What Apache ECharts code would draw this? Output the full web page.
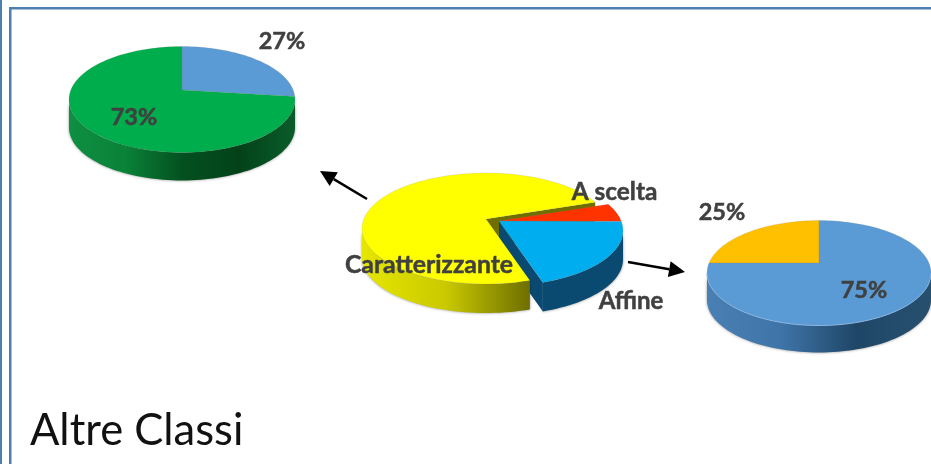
<!DOCTYPE html>
<html>
<head>
<meta charset="utf-8">
<style>html,body{margin:0;padding:0;background:#fff}#c{width:931px;height:464px}</style>
<script src="https://cdn.jsdelivr.net/npm/echarts@6/dist/echarts.min.js"></script>
</head>
<body>
<div id="c"></div>
<script>
var mainCategories = ['Caratterizzante', 'A scelta', 'Affine'];
var mainValues = [74.5, 5.5, 20];
var leftCategories = ['27%', '73%'];
var leftValues = [27, 73];
var rightCategories = ['75%', '25%'];
var rightValues = [75, 25];
var captionText = 'Altre Classi';

var FONT = 'Lato';
var TEXT = '#404040';
var FRAME = '#4f7fae';

var wallLeft = ['#0e8f42', '#0a8238', '#04501f', '#034219', '#0a5c2a'];
var wallRight = ['#4a7fb3', '#3f74a8', '#1f4667', '#27506f'];
var wallMain = ['#e6e600', '#c9c900', '#6e6e00'];

var leftPie = {
  cx: 182, cy: 99.5, rx: 113, ry: 53, k: -0.18, depth: 28, start: 0,
  slices: [
    { color: '#5b9bd5', wall: null, dx: 0, dy: 0, z: 1 },
    { color: '#00ad4c', wall: wallLeft, dx: 0, dy: 0, z: 3 }
  ]
};
var rightPie = {
  cx: 819, cy: 273, rx: 112, ry: 52.5, k: -0.19, depth: 27, start: 0,
  slices: [
    { color: '#5b9bd5', wall: wallRight, dx: 0, dy: 0, z: 3, rim: '#86b6e2' },
    { color: '#ffc000', wall: null, dx: 0, dy: 0, z: 1 }
  ]
};
var mainPie = {
  cx: 486, cy: 228.5, rx: 124, ry: 55.5, k: -0.17, depth: 29, start: 162.5,
  slices: [
    { color: '#ffff00', wall: wallMain, dx: 0, dy: 0, z: 20, innerEnd: '#6f6f00', innerZ: 1 },
    { color: '#ff3300', wall: ['#a82000', '#7a1800'], dx: 13, dy: 2, z: 5 },
    { color: '#00aeef', wall: ['#0a4a70', '#0a4a70'], dx: 13, dy: 2, z: 10, innerEnd: '#0a4a70', innerZ: 10 }
  ]
};

function project(p, deg, dx, dy) {
  var a = deg * Math.PI / 180;
  var u = Math.sin(a), t = -Math.cos(a), k = p.k;
  var d = 1 + k * t;
  return [
    p.cx + dx + p.rx * u * Math.sqrt(1 - k * k) / d,
    p.cy + dy + p.ry * (t + k) / d
  ];
}
function apex(p, dx, dy) {
  return [p.cx + dx, p.cy + dy + p.ry * p.k];
}
function rimPoints(p, a0, a1, dx, dy) {
  var pts = [], n = Math.max(2, Math.ceil(Math.abs(a1 - a0) / 2));
  for (var i = 0; i <= n; i++) pts.push(project(p, a0 + (a1 - a0) * i / n, dx, dy));
  return pts;
}
function gradient(stops) {
  return {
    type: 'linear', x: 0, y: 0, x2: 1, y2: 0,
    colorStops: stops.map(function (c, i) { return { offset: i / (stops.length - 1), color: c }; })
  };
}
function radialWall(p, deg, s, fill, z) {
  var A = apex(p, s.dx, s.dy), R = project(p, deg, s.dx, s.dy);
  return {
    type: 'polygon', z2: z, silent: true,
    shape: { points: [A, R, [R[0], R[1] + p.depth], [A[0], A[1] + p.depth]] },
    style: { fill: fill }
  };
}
function pieRenderer(p, values) {
  var total = values.reduce(function (a, b) { return a + b; }, 0);
  var front0 = Math.acos(p.k) * 180 / Math.PI, front1 = 360 - front0;
  return function (params, api) {
    var i = params.dataIndex, s = p.slices[i], before = 0;
    for (var j = 0; j < i; j++) before += values[j];
    var a0 = p.start + 360 * before / total;
    var a1 = a0 + 360 * api.value(0) / total;
    var kids = [];
    if (s.wall) {
      [0, 360].forEach(function (off) {
        var lo = Math.max(a0, front0 + off), hi = Math.min(a1, front1 + off);
        if (hi <= lo) return;
        var top = rimPoints(p, lo, hi, s.dx, s.dy);
        var bot = top.map(function (q) { return [q[0], q[1] + p.depth]; }).reverse();
        // the gradient always runs from left to right on the screen
        kids.push({
          type: 'polygon', z2: s.z, silent: true,
          shape: { points: top.concat(bot) },
          style: { fill: gradient(s.wall), shadowBlur: 3, shadowColor: 'rgba(0,0,0,0.45)' }
        });
      });
    }
    if (s.innerEnd) kids.push(radialWall(p, a1, s, s.innerEnd, s.innerZ));
    var face = [apex(p, s.dx, s.dy)].concat(rimPoints(p, a0, a1, s.dx, s.dy));
    kids.push({
      type: 'polygon', z2: s.z + 1, silent: true,
      shape: { points: face },
      style: { fill: s.color, stroke: 'rgba(120,120,120,0.25)', lineWidth: 0.6 }
    });
    if (s.rim) {
      var lo = Math.max(a0, front0), hi = Math.min(a1, front1);
      kids.push({
        type: 'polyline', z2: s.z + 2, silent: true,
        shape: { points: rimPoints(p, lo, hi, s.dx, s.dy) },
        style: { fill: 'none', stroke: s.rim, lineWidth: 1 }
      });
    }
    return { type: 'group', children: kids };
  };
}
function pieSeries(name, p, values, categories) {
  return {
    type: 'custom', name: name, coordinateSystem: 'none',
    renderItem: pieRenderer(p, values),
    data: values.map(function (v, i) { return { name: categories[i], value: [v] }; }),
    animation: false, silent: true
  };
}
function label(text, x, y, size) {
  return {
    type: 'text', x: x, y: y, z: 100, silent: true,
    style: {
      text: text, font: 'bold ' + size + 'px ' + FONT, fill: TEXT,
      stroke: TEXT, lineWidth: 0.5, align: 'center', verticalAlign: 'middle'
    }
  };
}
function band(x, y, w, h) {
  return { type: 'rect', z: 90, silent: true, shape: { x: x, y: y, width: w, height: h }, style: { fill: FRAME } };
}
function arrow(x0, y0, x1, y1, head, half) {
  var L = Math.hypot(x1 - x0, y1 - y0), ux = (x1 - x0) / L, uy = (y1 - y0) / L;
  var bx = x1 - ux * head, by = y1 - uy * head;
  return [
    { type: 'line', z: 95, silent: true, shape: { x1: x0, y1: y0, x2: bx, y2: by }, style: { stroke: '#000', lineWidth: 2.5 } },
    { type: 'polygon', z: 95, silent: true,
      shape: { points: [[x1, y1], [bx - uy * half, by + ux * half], [bx + uy * half, by - ux * half]] },
      style: { fill: '#000' } }
  ];
}

var graphics = [
  band(0, 0, 2, 464), band(9, 7, 2.5, 457), band(9, 7, 922, 2.5),
  label(leftCategories[0], 282, 41, 23.5),
  label(leftCategories[1], 134, 117, 23.5),
  label(rightCategories[1], 722, 212, 23.5),
  label(rightCategories[0], 864, 290, 23.5),
  label(mainCategories[0], 429, 265, 24.8),
  label(mainCategories[1], 614.5, 192, 24.4),
  label(mainCategories[2], 631, 301, 24),
  {
    type: 'text', x: 30, y: 431, z: 100, silent: true,
    style: { text: captionText, font: '43.5px ' + FONT, fill: '#111', align: 'left', verticalAlign: 'middle' }
  }
].concat(arrow(367, 199, 320, 171, 16, 8)).concat(arrow(628, 262, 685, 272, 16, 8));

var chart = echarts.init(document.getElementById('c'), null, { renderer: 'canvas' });
chart.setOption({
  animation: false,
  backgroundColor: '#ffffff',
  series: [
    pieSeries('Altre classi sinistra', leftPie, leftValues, leftCategories),
    pieSeries('Altre classi destra', rightPie, rightValues, rightCategories),
    pieSeries('Classi', mainPie, mainValues, mainCategories)
  ],
  graphic: graphics
});
</script>
</body>
</html>
